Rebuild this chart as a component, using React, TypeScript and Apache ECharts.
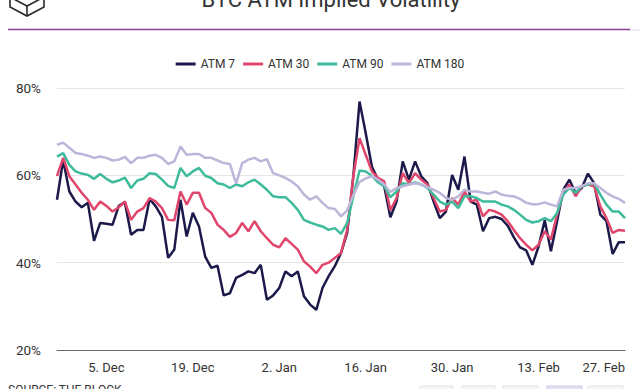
import React, { useEffect, useRef } from "react";
import * as echarts from "echarts";

const categories = [
  "2022-11-27", "2022-11-28", "2022-11-29", "2022-11-30",
  "2022-12-01", "2022-12-02", "2022-12-03", "2022-12-04", "2022-12-05", "2022-12-06", "2022-12-07", "2022-12-08", "2022-12-09", "2022-12-10",
  "2022-12-11", "2022-12-12", "2022-12-13", "2022-12-14", "2022-12-15", "2022-12-16", "2022-12-17", "2022-12-18", "2022-12-19", "2022-12-20",
  "2022-12-21", "2022-12-22", "2022-12-23", "2022-12-24", "2022-12-25", "2022-12-26", "2022-12-27", "2022-12-28", "2022-12-29", "2022-12-30",
  "2022-12-31",
  "2023-01-01", "2023-01-02", "2023-01-03", "2023-01-04", "2023-01-05", "2023-01-06", "2023-01-07", "2023-01-08", "2023-01-09", "2023-01-10",
  "2023-01-11", "2023-01-12", "2023-01-13", "2023-01-14", "2023-01-15", "2023-01-16", "2023-01-17", "2023-01-18", "2023-01-19", "2023-01-20",
  "2023-01-21", "2023-01-22", "2023-01-23", "2023-01-24", "2023-01-25", "2023-01-26", "2023-01-27", "2023-01-28", "2023-01-29", "2023-01-30",
  "2023-01-31",
  "2023-02-01", "2023-02-02", "2023-02-03", "2023-02-04", "2023-02-05", "2023-02-06", "2023-02-07", "2023-02-08", "2023-02-09", "2023-02-10",
  "2023-02-11", "2023-02-12", "2023-02-13", "2023-02-14", "2023-02-15", "2023-02-16", "2023-02-17", "2023-02-18", "2023-02-19", "2023-02-20",
  "2023-02-21", "2023-02-22", "2023-02-23", "2023-02-24", "2023-02-25", "2023-02-26", "2023-02-27",
];

const tickDates = ["2022-12-05", "2022-12-19", "2023-01-02", "2023-01-16", "2023-01-30", "2023-02-13", "2023-02-27"];
const tickLabels = ["5. Dec", "19. Dec", "2. Jan", "16. Jan", "30. Jan", "13. Feb", "27. Feb"];

const atm7 = [
  54.4, 63.5, 56.3, 54, 52.7, 53.7, 45, 49.1, 48.9, 48.7,
  53, 53.8, 46.4, 47.5, 47.5, 54.6, 52.9, 50.5, 41.1, 43,
  54.4, 46, 51.4, 48.3, 41.4, 38.8, 39.3, 32.5, 33, 36.5,
  37.2, 38, 37.6, 39.5, 31.5, 32.5, 34.2, 38, 36.9, 38,
  32.3, 30.4, 29.2, 34.2, 36.9, 39.2, 42.2, 46.8, 59.8, 76.9,
  69.7, 62, 59, 57.5, 50.4, 54, 63.2, 59, 63.2, 59.8,
  58.2, 54, 50.2, 51.7, 60.1, 56.7, 64.3, 54, 53.3, 47.2,
  50.2, 50.5, 50, 48.5, 45.8, 43.5, 42.8, 39.5, 43.7, 49.7,
  42.6, 49.5, 56.7, 59, 55.9, 57.1, 60.4, 58.2, 51, 49.5,
  42, 44.7, 44.7,
];

const atm30 = [
  59.8, 64, 59.8, 57.9, 56, 54.4, 52.1, 54, 53, 51.7,
  52.7, 54, 49.8, 51.7, 52.5, 54.8, 54, 52.5, 49.8, 49.7,
  56.3, 53.3, 56, 56, 52.5, 51.4, 48.7, 47.5, 45.9, 46.8,
  49.1, 47.2, 49.5, 47.2, 45.6, 44.1, 43.5, 45.6, 44.3, 43,
  40.3, 39.1, 37.6, 39.5, 40, 41.1, 42.2, 47.5, 59.8, 68.5,
  64.7, 60.9, 59.4, 58.6, 52, 54.8, 60.5, 58.2, 60.5, 59,
  57.9, 54.8, 51.7, 52.1, 54.8, 53.3, 56.3, 54, 54.4, 50.6,
  52.1, 51.7, 51, 49.5, 47.5, 45.6, 44.1, 42.8, 44.1, 47.2,
  45.3, 51, 56, 57.9, 55.2, 57.5, 57.9, 57.5, 52.9, 50.2,
  46.8, 47.5, 47.3,
];

const atm90 = [
  64.3, 65.1, 62.4, 60.9, 60.4, 60.1, 59.2, 60.3, 59.2, 58.4,
  58.8, 59.5, 57.1, 58.8, 59.2, 60.5, 60.3, 59, 57.6, 57.1,
  61.7, 59.8, 60.9, 61.7, 59.9, 59.4, 58.2, 57.9, 57.1, 57.9,
  57.5, 58.4, 59, 57.9, 56.7, 55.2, 55, 55, 53.7, 52.1,
  49.8, 49.2, 48.7, 48.3, 47.5, 47.9, 46.6, 49.1, 55.2, 61.1,
  60.9, 59.9, 58.4, 57.5, 55, 56.3, 58.2, 57.9, 58.4, 57.9,
  57.1, 55.6, 54, 53.3, 54, 52.5, 55.2, 55.2, 54.8, 54,
  54, 54, 53.3, 52.9, 52.1, 51, 49.8, 49.2, 49.5, 50.2,
  49.5, 51.4, 55.6, 57.1, 56, 57.5, 57.9, 58.2, 55.6, 53.3,
  51.7, 51.7, 50.2,
];

const atm180 = [
  67, 67.5, 66.3, 65.1, 64.9, 64.5, 64, 64.3, 64, 63.4,
  63.6, 64.2, 62.8, 64, 64, 64.5, 64.7, 64, 62.6, 63.2,
  66.6, 64.7, 64.9, 64.9, 64, 64, 63.4, 62.8, 62.6, 58.1,
  62.8, 63.6, 64, 63.2, 63.7, 60.5, 60, 59.4, 58.6, 57.5,
  55.6, 54.4, 55.2, 53.7, 52.5, 52.3, 50.6, 52, 55.5, 58.5,
  59.3, 59.8, 59, 57.9, 56.2, 57.1, 57.5, 57.9, 58.2, 57.9,
  57.3, 56.7, 56, 54.8, 54.4, 55.2, 56.7, 56.3, 56.3, 56,
  55.8, 56.3, 55.6, 55.3, 55.2, 54.6, 53.7, 53.4, 53.4, 53.8,
  53.3, 52.9, 56.7, 57.1, 57.1, 57.5, 58.2, 58.2, 57.1, 56,
  55.2, 54.6, 53.7,
];

const seriesNames = ["ATM 7", "ATM 30", "ATM 90", "ATM 180"];
const seriesColors = ["#1c1a4a", "#e0456c", "#3dbb9b", "#bcb6da"];
const seriesData = [atm7, atm30, atm90, atm180];

const FONT = "Roboto, 'Noto Sans', sans-serif";

export default function App() {
  const ref = useRef<HTMLDivElement>(null);

  useEffect(() => {
    if (!ref.current) return;
    const chart = echarts.init(ref.current, undefined, { renderer: "svg" });
    const tickMap: Record<string, string> = {};
    tickDates.forEach((d, i) => (tickMap[d] = tickLabels[i]));

    chart.setOption({
      animation: false,
      backgroundColor: "#ffffff",
      textStyle: { fontFamily: FONT },
      grid: { left: 57, right: 15, top: 88, bottom: 39 },
      legend: {
        data: seriesNames,
        top: 53,
        left: "center",
        icon: "rect",
        itemWidth: 20,
        itemHeight: 3,
        itemGap: 8,
        textStyle: { fontSize: 12, color: "#333333", fontFamily: FONT },
      },
      xAxis: {
        type: "category",
        data: categories,
        boundaryGap: false,
        axisLine: { lineStyle: { color: "#666666", width: 1 } },
        axisTick: { show: false },
        splitLine: { show: false },
        axisLabel: {
          interval: (_idx: number, value: string) => value in tickMap,
          formatter: (value: string) => tickMap[value] ?? "",
          fontSize: 13,
          color: "#333333",
          margin: 11,
          alignMaxLabel: "right",
          fontFamily: FONT,
        },
      },
      yAxis: {
        type: "value",
        min: 20,
        max: 80,
        interval: 20,
        axisLine: { show: false },
        axisTick: { show: false },
        splitLine: { lineStyle: { color: "#e6e6e6", width: 1 } },
        axisLabel: {
          formatter: "{value}%",
          fontSize: 13.5,
          color: "#333333",
          margin: 16,
          fontFamily: FONT,
        },
      },
      series: seriesNames.map((name, i) => ({
        name,
        type: "line",
        data: seriesData[i],
        symbol: "none",
        color: seriesColors[i],
        lineStyle: { width: 2.5, color: seriesColors[i] },
      })),
      graphic: [
        {
          type: "text",
          x: 331,
          y: -1,
          style: {
            text: "BTC ATM Implied Volatility",
            align: "center",
            verticalAlign: "middle",
            textAlign: "center",
            textVerticalAlign: "middle",
            fontSize: 22,
            fontFamily: FONT,
            fill: "#333333",
          },
        },
        {
          type: "polyline",
          shape: { points: [[10, -12], [10, 7], [27, 16], [44, 7], [44, -12]] },
          style: { stroke: "#2a2a2a", lineWidth: 1.6, fill: "none" },
        },
        {
          type: "polyline",
          shape: { points: [[10, -3], [27, 6], [44, -3]] },
          style: { stroke: "#2a2a2a", lineWidth: 1.6, fill: "none" },
        },
        {
          type: "line",
          shape: { x1: 27, y1: 6, x2: 27, y2: 16 },
          style: { stroke: "#2a2a2a", lineWidth: 1.6 },
        },
        {
          type: "line",
          shape: { x1: 8, y1: 29.5, x2: 630, y2: 29.5 },
          style: { stroke: "#8f3e97", lineWidth: 1.6 },
        },
        {
          type: "line",
          shape: { x1: 630, y1: 30, x2: 640, y2: 30 },
          style: { stroke: "#dcd6ea", lineWidth: 1 },
        },
        {
          type: "text",
          x: 8,
          y: 384,
          style: {
            text: "SOURCE: THE BLOCK",
            fontSize: 12,
            fontFamily: FONT,
            fill: "#333333",
          },
        },
        { type: "rect", shape: { x: 420, y: 386, width: 33, height: 10 }, style: { fill: "#f7f7f7", stroke: "#e2e2e2" } },
        { type: "rect", shape: { x: 462, y: 386, width: 33, height: 10 }, style: { fill: "#f7f7f7", stroke: "#e2e2e2" } },
        { type: "rect", shape: { x: 503, y: 386, width: 35, height: 10 }, style: { fill: "#f7f7f7", stroke: "#e2e2e2" } },
        { type: "rect", shape: { x: 547, y: 386, width: 35, height: 10 }, style: { fill: "#e4e0f4", stroke: "#cfc8ec" } },
        { type: "rect", shape: { x: 588, y: 386, width: 35, height: 10 }, style: { fill: "#f7f7f7", stroke: "#e2e2e2" } },
      ],
    });
    return () => chart.dispose();
  }, []);

  return (
    <div
      ref={ref}
      style={{ position: "fixed", left: 0, top: 0, width: 640, height: 389, background: "#fff" }}
    />
  );
}
